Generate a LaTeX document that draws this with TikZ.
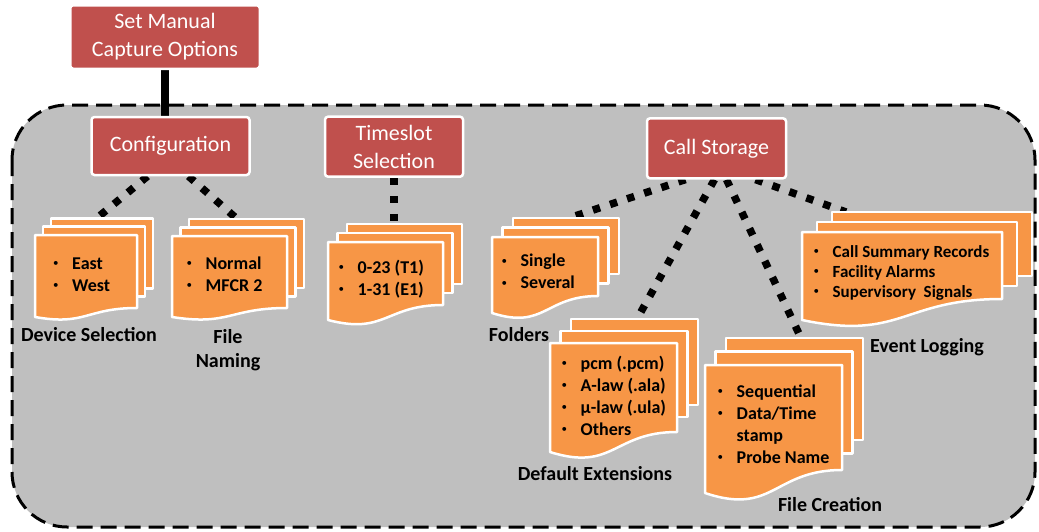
\documentclass[tikz,border=0pt]{standalone}
\usepackage{fontspec}
\setmainfont{Carlito}
\usetikzlibrary{calc}

\definecolor{boxred}{HTML}{C0504D}
\definecolor{pageorange}{HTML}{F79646}
\definecolor{panelgray}{HTML}{BFBFBF}

\pgfdeclarelayer{panel}
\pgfdeclarelayer{links}
\pgfsetlayers{panel,links,main}

\tikzset{
  redbox/.style={draw=white, line width=2.5pt, fill=boxred, rounded corners=3pt,
    text=white, font=\fontsize{22}{28}\selectfont, align=center, inner sep=0pt},
  dotlink/.style={line width=7.5pt, dash pattern=on 7.5pt off 10.5pt, black},
  solidlink/.style={line width=8pt, black},
  pagefill/.style={draw=white, line width=2.5pt, fill=pageorange, line join=round},
  caption/.style={font=\bfseries\fontsize{20}{24}\selectfont, inner sep=0pt, anchor=base},
  listtext/.style={font=\bfseries\fontsize{18}{22}\selectfont, anchor=base west, inner sep=0pt},
}

% small bullet item and continuation indent
\newcommand\bul{\makebox[20.5pt][l]{\hspace*{1.5pt}\raisebox{2.3pt}{\mdseries\fontsize{11}{11}\selectfont\textbullet}}}
\newcommand\cont{\hspace*{20.5pt}}

% stack of three pages with a wavy lower edge on the front one
% #1 name, #2 left, #3 top, #4 right, #5 bottom-left, #6 x step, #7 y rise, #8 wave depth
\newcommand\pagestack[8]{%
  \foreach \k in {2,1}{%
    \path[pagefill] (#2+\k*#6, #3-\k*#7) rectangle (#4+\k*#6, #5-#8-\k*#7-3);
  }
  \path[pagefill] (#2,#3) -- (#4,#3) -- (#4,#5-#8)
    .. controls ({(#2+#4)/2},#5-#8) and ({(#2+#4)/2},#5+#8) .. (#2,#5) -- cycle;
  \coordinate (#1) at (#2,#3);
}

\begin{document}
\begin{tikzpicture}[x=1pt,y=-1pt]
\useasboundingbox (0,0) rectangle (1039,531);

% gray dashed panel
\begin{pgfonlayer}{panel}
  \draw[dash pattern=on 16pt off 8pt, line width=3pt, fill=panelgray, rounded corners=55pt]
    (12,105) rectangle (1035,527);
\end{pgfonlayer}

% red headings
\node[redbox, minimum width=189.5pt, minimum height=63.5pt] (top) at (165,37)
  {Set Manual\\Capture Options};
\node[redbox, minimum width=158pt, minimum height=58pt] (config) at (170.5,146) {Configuration};
\node[redbox, minimum width=138pt, minimum height=60pt] (slot) at (394,146.7) {Timeslot\\Selection};
\node[redbox, minimum width=139pt, minimum height=60pt] (store) at (716.5,148.3) {Call Storage};

% connector end points on the page stacks
\coordinate (devend) at (97,218);
\coordinate (nameend) at (236,218);
\coordinate (slotend) at (394,224);
\coordinate (folderend) at (572,217);
\coordinate (extend) at (637,319);
\coordinate (createend) at (801,338);
\coordinate (eventend) at (846,212);

\begin{pgfonlayer}{links}
  \draw[solidlink] (top.south) -- (top.south |- config.north);
  \draw[dotlink] ($(config.south)+(-23,0)$) -- (devend);
  \draw[dotlink] ($(config.south)+(18,0)$) -- (nameend);
  \draw[dotlink] (slot.south) -- (slotend);
  \draw[dotlink] ($(store.south)+(-31,0)$) -- (folderend);
  \draw[dotlink] ($(store.south)+(-2,0)$) -- (extend);
  \draw[dotlink] ($(store.south)+(10,0)$) -- (createend);
  \draw[dotlink] ($(store.south)+(39,0)$) -- (eventend);
\end{pgfonlayer}

% page stacks
\pagestack{devpages}{35}{235}{137}{317}{8}{8.3}{9}
\pagestack{namepages}{172}{236}{287}{317}{8.5}{8.5}{9}
\pagestack{slotpages}{328}{242}{443}{320}{9.5}{9}{15}
\pagestack{folderpages}{492}{237}{598}{313}{10.5}{9.5}{17}
\pagestack{extpages}{550}{343}{677}{452}{10.5}{12}{20}
\pagestack{createpages}{705}{365}{842}{493}{10.5}{13.5}{23}
\pagestack{eventpages}{802}{232}{1002}{320}{15}{10}{21}

% page contents
\node[listtext] (devlist) at (51.5,269)
  {\begin{tabular}[t]{@{}l@{}}\bul East\\\bul West\end{tabular}};
\node[listtext] (namelist) at (185,269)
  {\begin{tabular}[t]{@{}l@{}}\bul Normal\\\bul MFCR 2\end{tabular}};
\node[listtext] (slotlist) at (337,273)
  {\begin{tabular}[t]{@{}l@{}}\bul 0-23 (T1)\\\bul 1-31 (E1)\end{tabular}};
\node[listtext] (folderlist) at (500,266.5)
  {\begin{tabular}[t]{@{}l@{}}\bul Single\\\bul Several\end{tabular}};
\node[listtext] (extlist) at (560,369)
  {\begin{tabular}[t]{@{}l@{}}\bul pcm (.pcm)\\\bul A-law (.ala)\\\bul µ-law (.ula)\\\bul Others\end{tabular}};
\node[listtext] (createlist) at (716,397)
  {\begin{tabular}[t]{@{}l@{}}\bul Sequential\\\bul Data/Time\\\cont stamp\\\bul Probe Name\end{tabular}};
\node[listtext, font=\bfseries\fontsize{17}{20}\selectfont] (eventlist) at (812,257)
  {\begin{tabular}[t]{@{}l@{}}\bul Call Summary Records\\\bul Facility Alarms\\\bul Supervisory\ \ Signals\end{tabular}};

% captions
\node[caption] (devcap) at (89,341.5) {Device Selection};
\node[caption] (namecap) at (228,343)
  {\begin{tabular}[t]{@{}c@{}}File\\Naming\end{tabular}};
\node[caption] (foldercap) at (519,341.5) {Folders};
\node[caption] (extcap) at (595,480) {Default Extensions};
\node[caption] (createcap) at (830,511.5) {File Creation};
\node[caption] (eventcap) at (927,352) {Event Logging};
\end{tikzpicture}
\end{document}
